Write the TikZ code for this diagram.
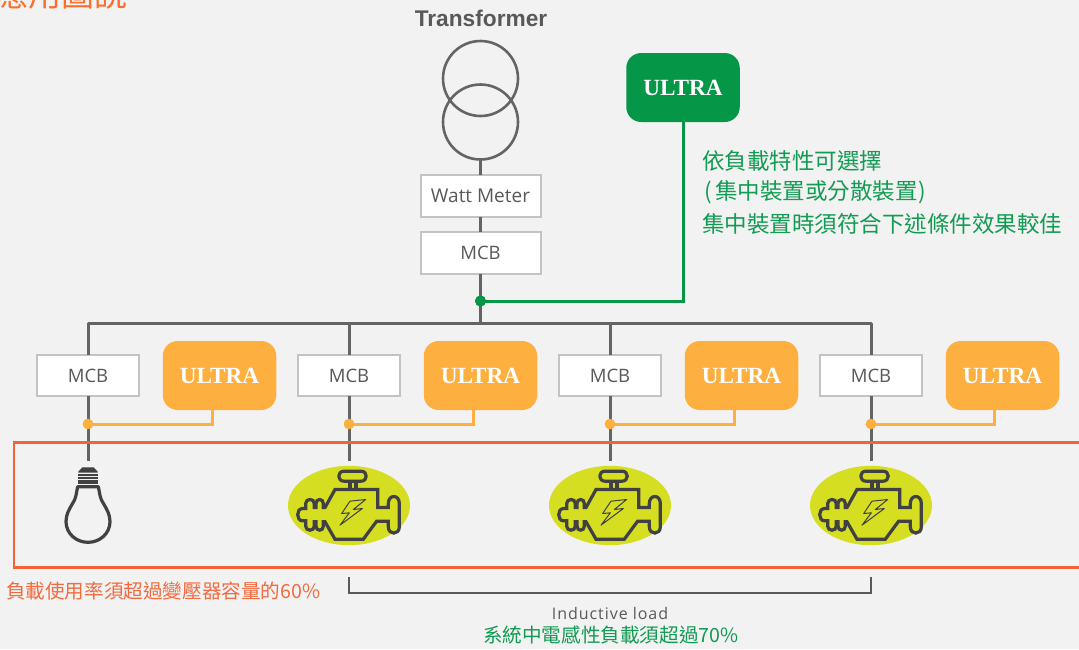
\documentclass[tikz,border=0pt]{standalone}
\usepackage{fontspec}
\setmainfont{Open Sans}
\newfontfamily\cjkf{Noto Sans CJK TC}
\newfontfamily\arialf{Liberation Sans}
\newfontfamily\timesf{Liberation Serif}
\newfontfamily\spacedf[LetterSpace=6]{Open Sans}
\definecolor{bgc}{HTML}{F2F2F2}
\definecolor{linec}{HTML}{636466}
\definecolor{textc}{HTML}{58595B}
\definecolor{boxc}{HTML}{C2C3C6}
\definecolor{greenc}{HTML}{059647}
\definecolor{greentxt}{HTML}{129B53}
\definecolor{orangec}{HTML}{FDB040}
\definecolor{redc}{HTML}{F36333}
\definecolor{redtxt}{HTML}{F26A3F}
\definecolor{titlec}{HTML}{FB6E2C}
\definecolor{limec}{HTML}{D5DE20}
\definecolor{iconc}{HTML}{414042}
\tikzset{
  wire/.style={draw=linec,line width=3pt},
  feed/.style={draw=orangec,line width=3pt},
  meterbox/.style={draw=boxc,fill=white,line width=2pt,minimum width=120pt,minimum height=42pt,inner sep=0pt,outer sep=0pt,text=textc,font=\fontsize{18.5}{20}\selectfont},
  mcbbox/.style={draw=boxc,fill=white,line width=2pt,minimum width=102pt,minimum height=41pt,inner sep=0pt,outer sep=0pt,text=textc,font=\fontsize{18.5}{20}\selectfont},
  ultrabox/.style={rounded corners=15pt,minimum width=113.5pt,minimum height=69pt,inner sep=0pt,outer sep=0pt,text=white,font=\timesf\bfseries\fontsize{23.2}{26}\selectfont},
  coil/.style={circle,draw=linec,line width=2.6pt,minimum size=75pt,inner sep=0pt,outer sep=0pt},
  dotg/.style={circle,fill=greenc,minimum size=11pt,inner sep=0pt,outer sep=0pt},
  doto/.style={circle,fill=orangec,minimum size=10.5pt,inner sep=0pt,outer sep=0pt},
  lbl/.style={inner sep=0pt,outer sep=0pt}
}
\newcommand{\enginepic}[1]{%
\begin{scope}[shift={(#1,505.5)},x=0.3333pt,y=-0.3333pt]
\begin{scope}[shift={(-237,-316)}]
\fill[limec] (237,316) ellipse [x radius=183,y radius=119];
\draw[iconc,line width=3.2pt,line join=miter]
 (165,322) -- (195,268) -- (323,268) -- (323,322) -- (355,322) -- (355,310)
 .. controls (355,282) and (388,282) .. (388,310) -- (388,380)
 .. controls (388,405) and (355,405) .. (355,380) -- (355,363) -- (320,363)
 -- (280,417) -- (195,417) -- (165,365) -- (160,365) -- (160,378)
 .. controls (160,394) and (138,394) .. (138,378) -- (138,365) -- (133,365) -- (133,378)
 .. controls (133,394) and (107,394) .. (107,378) -- (107,362) -- (98,362)
 .. controls (78,362) and (78,325) .. (98,325) -- (107,325) -- (107,310)
 .. controls (107,294) and (133,294) .. (133,310) -- (133,322) -- (138,322) -- (138,310)
 .. controls (138,294) and (160,294) .. (160,310) -- (160,322) -- cycle;
\draw[iconc,line width=3.2pt] (240,243) -- (240,268) (258,243) -- (258,268);
\draw[iconc,line width=3.2pt,line join=round] (222,213) -- (273,213) .. controls (294,213) and (294,243) .. (273,243) -- (222,243) .. controls (201,243) and (201,213) .. (222,213) -- cycle;
\draw[iconc,line width=1pt,line join=round] (287,298) -- (240,303) -- (215,340) -- (238,338) -- (210,375) -- (277,325) -- (250,328) -- cycle;
\end{scope}
\end{scope}}
\begin{document}
\begin{tikzpicture}[x=1pt,y=-1pt]
\useasboundingbox (0,0) rectangle (1079,649);
\clip (0,0) rectangle (1079,649);
\fill[bgc] (0,0) rectangle (1079,649);

% title, cut by the top edge
\node[lbl,anchor=west,text=titlec,font=\cjkf\fontsize{33}{36}\selectfont] (title) at (-5,-6) {應用圖說};
\node[lbl,text=textc,font=\arialf\bfseries\fontsize{22.7}{26}\selectfont] (trlabel) at (481,18.5) {Transformer};

% named junctions
\coordinate (b1) at (88,323);
\coordinate (bm) at (480.5,323);
\coordinate (b2) at (349,323);
\coordinate (b3) at (610,323);
\coordinate (b4) at (871,323);

% transformer and main feeder
\node[coil] (t1) at (480.5,78.5) {};
\node[coil] (t2) at (480.5,122) {};
\node[meterbox,font=\fontsize{19}{20}\selectfont] (wm) at (480.5,196) {Watt Meter};
\node[meterbox] (mm) at (480.5,252.8) {MCB};
\node[dotg] (gdot) at (480.5,301) {};
\node[ultrabox,fill=greenc] (ug) at (683,87.5) {\raisebox{-0.5pt}{ULTRA}};
\draw[wire] (t2.south) -- (wm.north);
\draw[wire] (wm.south) -- (mm.north);
\draw[wire] (mm.south) -- (bm);
\draw[greenc,line width=3pt] (gdot.center) -| (ug.south);
\node[dotg] at (gdot) {};

% bus, breakers, compensators
\foreach \i/\x/\ux/\tapx in {1/88/219.5/212,2/349/480.5/473,3/610/741.5/734,4/871/1002.5/994.5}{
  \node[mcbbox] (mcb\i) at (\x,375.5) {MCB};
  \node[ultrabox,fill=orangec] (ultra\i) at (\ux,375.5) {\raisebox{-0.7pt}{ULTRA}};
  \node[doto] (dot\i) at (\x,424) {};
  \coordinate (end\i) at (\x,461);
  \coordinate (tap\i) at (\tapx,410);
  \draw[wire] (mcb\i.south) -- (end\i);
  \draw[feed] (dot\i.center) -| (tap\i);
  \node[doto] at (dot\i) {};
}
\draw[wire,line join=round] (mcb1.north) -- (b1) -- (b4) -- (mcb4.north);
\draw[wire] (b2) -- (mcb2.north);
\draw[wire] (b3) -- (mcb3.north);

% load frame
\draw[redc,line width=2.6pt] (1090,442.5) -- (14,442.5) -- (14,567.5) -- (1090,567.5);

% lamp
\begin{scope}[shift={(88,400)},x=0.3333pt,y=-0.3333pt]
\begin{scope}[shift={(-204,0)}]
\fill[iconc] (175,215) -- (187,202) -- (221,202) -- (233,215) -- (233,218) -- (175,218) -- cycle;
\foreach \yy in {222,231,240,247}{\fill[iconc] (175,\yy) rectangle (233,\yy+4.5);}
\draw[iconc,line width=3.2pt,line join=round]
 (173,260) -- (235,260) .. controls (240,285) and (240,295) .. (250,310)
 .. controls (262,330) and (270,345) .. (270,365)
 .. controls (270,400) and (240,427) .. (204,427)
 .. controls (168,427) and (138,400) .. (138,365)
 .. controls (138,345) and (146,330) .. (158,310)
 .. controls (168,295) and (168,285) .. (173,260) -- cycle;
\end{scope}
\end{scope}

\enginepic{349}
\enginepic{610}
\enginepic{871}

% bracket
\coordinate (br1) at (349,577);
\coordinate (br2) at (871,577);
\coordinate (brb) at (610,593);
\draw[textc,line width=2pt,line join=miter] (br1) |- (brb) -| (br2);

% texts
\node[lbl,anchor=west,text=greentxt,font=\cjkf\fontsize{22.5}{26}\selectfont] (g1) at (702,161) {依負載特性可選擇};
\node[lbl,anchor=west,text=greentxt,font=\cjkf\fontsize{22.5}{26}\selectfont] (g2) at (704.5,192) {(\kern3pt 集中裝置或分散裝置\kern1pt)};
\node[lbl,anchor=west,text=greentxt,font=\cjkf\fontsize{22.5}{26}\selectfont] (g3) at (702,224) {集中裝置時須符合下述條件效果較佳};
\node[lbl,anchor=west,text=redtxt,font=\cjkf\fontsize{19.6}{22}\selectfont] (r1) at (6,591) {負載使用率須超過變壓器容量的60\%};
\node[lbl,text=textc,font=\spacedf\fontsize{16}{18}\selectfont] (ind) at (610,613) {Inductive load};
\node[lbl,anchor=west,text=greentxt,font=\cjkf\fontsize{19.6}{23}\selectfont] (g4) at (483,635) {系統中電感性負載須超過70\%};
\end{tikzpicture}
\end{document}
